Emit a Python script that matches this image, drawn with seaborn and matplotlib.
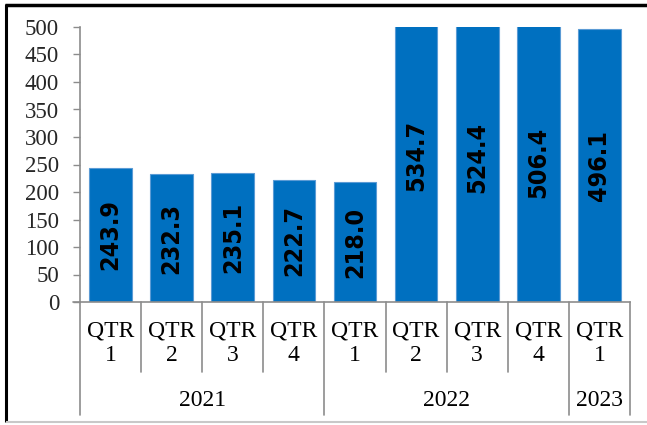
import matplotlib
matplotlib.use("Agg")
import matplotlib.pyplot as plt
import matplotlib.transforms as mtransforms
from matplotlib import font_manager as fm
import seaborn as sns
import pandas as pd

quarters = ["QTR\n1", "QTR\n2", "QTR\n3", "QTR\n4", "QTR\n1", "QTR\n2", "QTR\n3", "QTR\n4", "QTR\n1"]
years = ["2021", "2022", "2023"]
year_counts = [4, 4, 1]
values = [243.9, 232.3, 235.1, 222.7, 218.0, 534.7, 524.4, 506.4, 496.1]

df = pd.DataFrame({"pos": [str(i) for i in range(len(values))], "value": values})

sns.set_theme(style="white")
plt.rcParams["font.family"] = ["Liberation Serif", "DejaVu Serif"]

# pick a narrow bold font for the value labels
fonts = fm.fontManager.ttflist
if any(f.name == "Liberation Sans Narrow" for f in fonts):
    lab_kw = dict(family=["Liberation Sans Narrow"], fontsize=17.5, fontweight="bold")
elif any(f.name == "DejaVu Sans" and f.stretch == "condensed" for f in fonts):
    lab_kw = dict(family=["DejaVu Sans"], fontstretch="condensed", fontsize=18, fontweight="bold")
else:
    lab_kw = dict(family=["Liberation Serif"], fontsize=16, fontweight="bold")

W, H = 647, 425
fig = plt.figure(figsize=(W/100, H/100), dpi=100)

# overlay in pixel coordinates for the outer frame
frame = fig.add_axes([0, 0, 1, 1], zorder=10)
frame.set_xlim(0, W)
frame.set_ylim(H, 0)
frame.set_axis_off()
frame.patch.set_alpha(0)
frame.plot([6, 6], [4, H - 3], color="black", lw=2.2, solid_capstyle="butt")
frame.plot([5, W], [4.5, 4.5], color="black", lw=2.5, solid_capstyle="butt")
frame.plot([6, W], [H - 3.5, H - 3.5], color="#c8c8c8", lw=1.5, solid_capstyle="butt")

ax = fig.add_axes([80/W, 123/H, 550/W, 275/H])

sns.barplot(data=df, x="pos", y="value", ax=ax, color="#0070C0", width=0.7,
            edgecolor="#5B9BD5", linewidth=0.8, saturation=1)

ax.set_ylim(0, 500)
ax.set_xlim(-0.5, len(values) - 0.5)
ax.set_yticks(range(0, 501, 50))
ax.tick_params(axis="y", labelsize=16.5, length=5, width=1, color="#8c8c8c", pad=10, direction="out", left=True)
ax.set_xticks([])
ax.set_xlabel("")
ax.set_ylabel("")
for s in ["top", "right"]:
    ax.spines[s].set_visible(False)
for s in ["left", "bottom"]:
    ax.spines[s].set_color("#8c8c8c")
    ax.spines[s].set_linewidth(1.2)

# value labels
for i, v in enumerate(values):
    ax.text(i, v / 2, f"{v:.1f}", rotation=90, ha="center", va="center",
            color="black", clip_on=False, **lab_kw)

# multi-level category axis
trans = mtransforms.blended_transform_factory(ax.transData, ax.transAxes)
q_low = -70 / 275
y_low = -113 / 275
lc = "#8c8c8c"
ax.plot([-0.5 - 7/61.1, -0.5], [0, 0], transform=trans, color=lc, lw=1.2, clip_on=False)
for i, q in enumerate(quarters):
    ax.text(i, -41/275, q, transform=trans, ha="center", va="center",
            fontsize=17, linespacing=1.2, color="black")
boundaries = []
acc = 0
for c in year_counts:
    boundaries.append(acc)
    acc += c
boundaries.append(acc)
for k in range(1, len(values)):
    if k not in boundaries:
        ax.plot([k - 0.5, k - 0.5], [0, q_low], transform=trans, color=lc, lw=1.2, clip_on=False)
for b in boundaries:
    ax.plot([b - 0.5, b - 0.5], [0, y_low], transform=trans, color=lc, lw=1.2, clip_on=False)
for j, y in enumerate(years):
    center = boundaries[j] + (year_counts[j] - 1) / 2
    ax.text(center, -99/275, y, transform=trans, ha="center", va="center", fontsize=17, color="black")

fig.savefig("out.png", dpi=100)
